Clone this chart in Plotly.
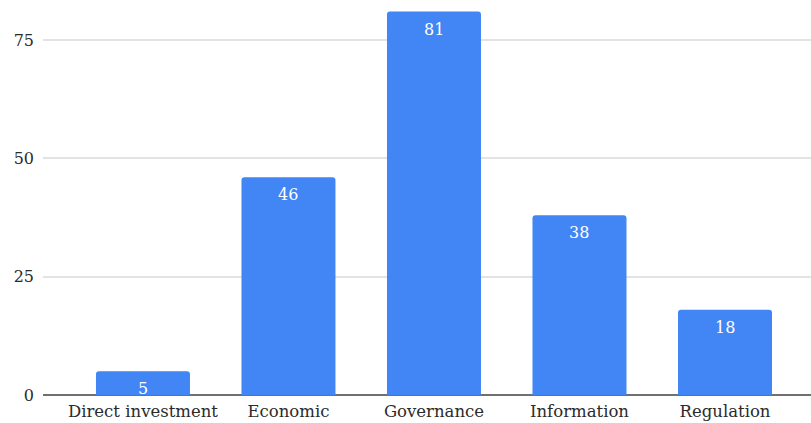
import plotly.graph_objects as go

categories = ["Direct investment", "Economic", "Governance", "Information", "Regulation"]
counts = [5, 46, 81, 38, 18]
y_ticks = [0, 25, 50, 75]

BAR_COLOR = "#4285F4"
FONT = "DejaVu Serif"
TEXT_COLOR = "#2b2b2b"

fig = go.Figure(
    go.Bar(
        x=categories,
        y=counts,
        marker=dict(color=BAR_COLOR, line=dict(width=0)),
        width=0.646,
        hoverinfo="x+y",
    )
)

# value labels inside the top of each bar
for cat, val in zip(categories, counts):
    fig.add_annotation(
        x=cat, y=val, text=str(val), showarrow=False,
        yanchor="top", yshift=-6,
        font=dict(family=FONT, size=16, color="white"),
    )

fig.update_layout(
    width=811, height=423,
    margin=dict(l=43, r=0, t=2, b=28),
    plot_bgcolor="white", paper_bgcolor="white",
    barcornerradius=3,
    showlegend=False,
    font=dict(family=FONT, size=16, color=TEXT_COLOR),
)
fig.update_xaxes(
    range=[-0.687, 4.591],
    showgrid=False, showline=False, zeroline=False,
    ticks="", ticklabelstandoff=4,
    tickfont=dict(family=FONT, size=16.5, color=TEXT_COLOR),
)
fig.update_yaxes(
    range=[0, 83.03],
    tickvals=y_ticks, ticktext=[str(v) for v in y_ticks],
    showgrid=True, gridcolor="#e3e3e3", gridwidth=1.5,
    zeroline=True, zerolinecolor="#707070", zerolinewidth=2,
    showline=False, ticks="", ticklabelstandoff=8,
    tickfont=dict(family=FONT, size=16, color=TEXT_COLOR),
)

fig.write_html("out.html")
